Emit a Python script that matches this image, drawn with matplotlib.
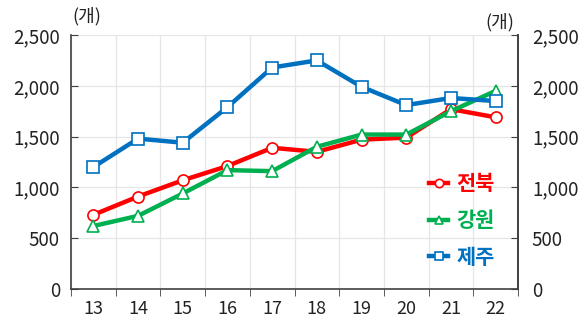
import numpy as np
import matplotlib.pyplot as plt

plt.rcParams['font.family'] = ['Noto Sans CJK KR', 'DejaVu Sans']

years = ["13", "14", "15", "16", "17", "18", "19", "20", "21", "22"]
jeonbuk = [730, 910, 1070, 1210, 1390, 1350, 1470, 1490, 1770, 1690]
gangwon = [620, 720, 940, 1170, 1160, 1400, 1520, 1520, 1750, 1950]
jeju = [1200, 1480, 1440, 1790, 2180, 2250, 1990, 1810, 1880, 1850]
yticks = [0, 500, 1000, 1500, 2000, 2500]

series = [
    ("전북", jeonbuk, "#FF0000", "o"),
    ("강원", gangwon, "#00B050", "^"),
    ("제주", jeju, "#0070C0", "s"),
]

fig = plt.figure(figsize=(5.81, 3.25), dpi=100)
ax = fig.add_axes([71 / 581, 1 - 289 / 325, 447 / 581, 254 / 325])

x = np.arange(len(years))
for name, vals, color, marker in series:
    ax.plot(x, vals, color=color, lw=3.2, marker=marker, markersize=8,
            markerfacecolor="white", markeredgecolor=color,
            markeredgewidth=1.2, label=name, zorder=3)

ax.set_xlim(-0.5, len(years) - 0.5)
ax.set_ylim(0, 2500)
ax.set_yticks(yticks)
ax.set_yticklabels([f"{v:,}" for v in yticks])
ax.set_xticks(x)
ax.set_xticklabels(years)
ax.set_xticks(np.arange(-0.5, len(years)), minor=True)
ax.tick_params(axis="x", which="major", length=0, pad=8, labelsize=13,
               colors="#222222")
ax.tick_params(axis="x", which="minor", length=5, direction="out",
               color="#404040")
ax.tick_params(axis="y", length=5, direction="in", pad=8, labelsize=13.5,
               colors="#222222", color="#404040")

ax.grid(True, axis="y", color="#e6e6e6", lw=0.9)
ax.grid(True, axis="x", which="minor", color="#e6e6e6", lw=0.9)
ax.set_axisbelow(True)

for s in ["left", "bottom", "right"]:
    ax.spines[s].set_color("#404040")
    ax.spines[s].set_linewidth(1.2)
ax.spines["top"].set_visible(False)

ax2 = ax.twinx()
ax2.set_ylim(0, 2500)
ax2.set_yticks(yticks)
ax2.set_yticklabels([f"{v:,}" for v in yticks])
ax2.tick_params(axis="y", length=5, direction="in", pad=10, labelsize=13.5,
                colors="#222222", color="#404040")
for s in ["left", "bottom", "top"]:
    ax2.spines[s].set_visible(False)
ax2.spines["right"].set_color("#404040")
ax2.spines["right"].set_linewidth(1.2)

fig.text(72 / 581, 1 - 16 / 325, "(개)", fontsize=13, color="#222222",
         va="center", ha="left")
fig.text(514 / 581, 1 - 22 / 325, "(개)", fontsize=13, color="#222222",
         va="center", ha="right")

leg = ax.legend(loc="lower right", bbox_to_anchor=(0.99, 0.01), frameon=False,
                handlelength=0.9, handletextpad=0.4, labelspacing=0.75,
                markerscale=0.75,
                prop={"weight": "bold", "size": 15}, labelcolor="linecolor")

fig.savefig("out.png", dpi=100)
